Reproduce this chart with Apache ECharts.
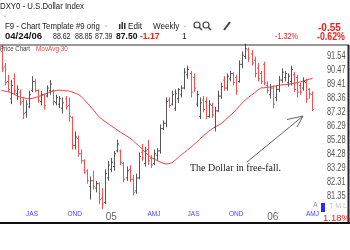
<!DOCTYPE html>
<html><head><meta charset="utf-8">
<script src="https://cdn.jsdelivr.net/npm/echarts@6/dist/echarts.min.js"></script>
<style>html,body{margin:0;padding:0;background:#fff}#c{width:350px;height:250px}</style>
</head><body><div id="c"></div>
<script>
// Weekly bars, first week starting Monday 2004-05-10, last week 04/24/06
const startDate = '2004-05-10';
const open  = [91.9,90.7,89.6,88.3,89.8,88.7,88.8,88.1,87.3,87.7,88.9,89.6,88.9,88.1,88.6,88.5,88.9,88.9,88.0,87.9,87.6,88.3,87.8,86.9,84.9,85.4,84.3,83.8,83.1,82.0,82.4,81.9,82.2,81.2,80.9,82.6,83.2,83.4,84.5,84.5,83.6,82.6,83.2,82.5,81.7,82.6,84.4,83.6,84.6,84.0,83.6,84.2,84.5,86.1,86.5,88.2,87.9,87.6,88.3,88.6,89.1,90.1,90.2,89.9,87.9,87.0,88.2,88.1,87.0,87.8,86.2,87.4,88.5,89.7,89.1,89.8,90.2,89.9,89.6,90.9,91.5,92.0,91.7,91.2,90.6,90.2,90.9,89.3,88.6,89.1,88.4,89.0,89.7,89.9,89.5,89.6,90.1,89.9,89.3,89.1,89.5,89.0,88.62];
const high  = [92.4,91.0,90.1,89.7,90.2,89.3,89.0,88.4,88.2,88.9,90.0,89.8,89.0,88.9,88.7,89.3,89.7,89.0,88.6,88.5,88.4,88.5,88.4,87.0,85.9,85.6,84.6,83.9,83.2,82.7,83.1,82.4,82.3,81.9,83.2,83.8,84.0,84.5,85.3,84.6,83.7,83.4,83.5,82.8,82.9,84.4,85.0,84.8,85.3,84.2,84.6,84.7,86.4,86.7,88.4,88.4,88.9,89.0,89.1,89.3,90.6,90.8,90.4,90.2,88.9,88.4,88.5,88.4,88.2,88.0,87.7,88.9,89.5,90.0,90.2,90.4,90.3,90.1,91.2,91.9,92.5,92.2,92.0,91.5,91.0,90.4,91.1,89.6,89.4,89.3,89.3,90.0,90.6,90.4,90.2,90.8,90.3,90.1,89.5,89.9,89.8,89.1,88.85];
const low   = [90.3,89.3,88.8,87.9,88.6,88.2,87.8,86.8,86.9,87.6,88.8,88.8,88.0,87.8,87.5,88.4,88.6,87.8,87.8,87.6,87.2,87.5,86.6,84.6,84.6,84.1,83.6,82.9,82.2,81.1,81.8,81.6,80.8,80.45,80.8,82.4,83.0,83.1,84.4,83.5,82.3,82.4,82.3,81.4,81.5,82.5,83.8,83.4,83.5,83.3,83.5,83.8,84.3,86.0,86.2,87.6,87.8,87.4,88.0,88.4,89.0,89.8,88.4,88.8,87.7,86.8,87.3,86.8,86.9,86.9,85.9,87.3,88.3,88.9,88.9,89.6,89.3,88.6,89.5,90.6,91.3,91.1,90.8,89.9,89.6,89.4,89.3,88.7,88.3,87.6,88.1,88.8,89.5,89.6,89.2,89.3,88.8,88.4,88.6,88.9,88.0,88.3,87.39];
const close = [90.6,89.5,89.0,89.3,88.9,89.0,88.0,87.2,87.9,88.6,89.6,88.9,88.2,88.6,87.8,89.1,89.4,88.1,88.4,88.3,88.0,87.7,87.0,84.9,85.5,84.3,83.8,83.0,82.4,82.4,82.0,82.2,81.1,80.8,82.9,83.5,83.7,84.3,85.0,83.7,82.5,83.1,82.5,81.6,82.6,84.1,84.0,84.5,83.8,83.5,84.3,84.5,86.1,86.5,88.1,87.8,88.6,88.7,89.0,89.1,90.3,90.5,88.8,89.1,88.6,88.0,87.5,87.0,87.9,87.1,87.4,88.5,89.2,89.1,90.0,90.2,89.5,88.9,90.9,91.6,92.1,91.4,91.0,90.2,89.8,89.6,89.5,88.9,89.1,87.9,89.0,89.7,90.3,90.2,90.0,90.5,89.0,88.8,88.8,89.6,88.3,88.67,87.50];
const ma30  = [88.93,88.87,88.83,88.77,88.65,88.53,88.42,88.38,88.33,88.29,88.32,88.38,88.45,88.53,88.62,88.71,88.81,88.86,88.92,88.94,88.92,88.90,88.88,88.82,88.73,88.64,88.50,88.26,88.01,87.77,87.49,87.23,86.96,86.77,86.62,86.46,86.30,86.15,85.99,85.84,85.71,85.58,85.44,85.26,85.06,84.86,84.65,84.44,84.22,84.04,83.93,83.82,83.71,83.64,83.57,83.60,83.67,83.85,84.05,84.22,84.39,84.56,84.74,84.93,85.13,85.33,85.53,85.73,85.92,86.08,86.21,86.34,86.47,86.65,86.86,87.06,87.26,87.50,87.75,87.99,88.22,88.41,88.58,88.74,88.94,89.10,89.12,89.15,89.17,89.22,89.26,89.31,89.34,89.36,89.38,89.42,89.46,89.51,89.56,89.63,89.70,89.77,89.83];
const yTickLabels = ['81.35','82.31','83.29','84.28','85.28','86.29','87.32','88.36','89.41','90.47','91.54'];
const xLabelIndex = [10,24,36,50,63,77,89,102];
const xLabelText  = ['JAS','OND','05','AMJ','JAS','OND','06','AMJ'];

// weekly category labels
const categories = [];
{
  const d0 = new Date(startDate + 'T00:00:00Z');
  for (let i = 0; i < open.length; i++) {
    const d = new Date(d0.getTime() + i * 7 * 86400000);
    const mm = String(d.getUTCMonth() + 1).padStart(2, '0');
    const dd = String(d.getUTCDate()).padStart(2, '0');
    const yy = String(d.getUTCFullYear()).slice(2);
    categories.push(mm + '/' + dd + '/' + yy);
  }
}

// log price scale: ticks equally spaced at the labelled prices
const base = parseFloat(yTickLabels[0]);
const step = Math.log(parseFloat(yTickLabels[yTickLabels.length - 1]) / base) / (yTickLabels.length - 1);
const toU = p => Math.log(p / base) / step;

const UP = '#555555', DOWN = '#ff4d4d';
const ohlc = categories.map((c, i) => [i, toU(open[i]), toU(high[i]), toU(low[i]), toU(close[i]), close[i] >= open[i] ? 1 : 0]);

const SANS = '"Liberation Sans",Arial,sans-serif';
function T(x, y, text, fill, font, sx) {
  return { type: 'text', x: x, y: y, scaleX: sx || 1, silent: true, z: 10,
    style: { text: text, fill: fill || '#222', font: font,
      textVerticalAlign: 'middle', verticalAlign: 'middle', textAlign: 'left', align: 'left' } };
}
function L(x1, y1, x2, y2, stroke, w) {
  return { type: 'line', silent: true, z: 10, shape: { x1: x1, y1: y1, x2: x2, y2: y2 }, style: { stroke: stroke, lineWidth: w || 1 } };
}
const RED = '#ff1a1a';
const graphics = [
  T(0, 6, 'DXY0 - U.S.Dollar Index', '#1a1a1a', '9.5px ' + SANS, 0.82),
  T(2, 15, '⌄', '#aaaaaa', '7px ' + SANS),
  T(5, 26, 'F9 - Chart Template #9 orig', '#1a1a1a', '9.5px ' + SANS, 0.82),
  T(103, 25, '⌄', '#aaaaaa', '7px ' + SANS),
  { type: 'rect', silent: true, shape: { x: 119, y: 24, width: 1.5, height: 5 }, style: { fill: '#333' } },
  { type: 'rect', silent: true, shape: { x: 121.5, y: 22, width: 1.5, height: 7 }, style: { fill: '#333' } },
  { type: 'rect', silent: true, shape: { x: 124, y: 23, width: 1.5, height: 6 }, style: { fill: '#333' } },
  T(128, 26, 'Edit', '#1a1a1a', '9.5px ' + SANS, 0.85),
  T(153, 26, 'Weekly', '#1a1a1a', '9.5px ' + SANS, 0.85),
  T(182, 25, '⌄', '#aaaaaa', '7px ' + SANS),
  { type: 'circle', silent: true, shape: { cx: 197, cy: 25, r: 3 }, style: { stroke: '#444', fill: 'none', lineWidth: 1.2 } },
  L(199, 27, 202, 30, '#444', 1.5),
  { type: 'circle', silent: true, shape: { cx: 206, cy: 25, r: 3 }, style: { stroke: '#444', fill: 'none', lineWidth: 1.2 } },
  L(208, 27, 211, 30, '#444', 1.5),
  L(224, 30, 230, 22, '#444', 2),
  T(318, 28, '-0.55', RED, 'bold 10px ' + SANS, 1.0),
  T(5, 36.5, '04/24/06', '#111', 'bold 9.5px ' + SANS, 1.0),
  T(53, 36.5, '88.62', '#222', '8.5px ' + SANS, 0.82),
  T(75, 36.5, '88.85', '#222', '8.5px ' + SANS, 0.82),
  T(95, 36.5, '87.39', '#222', '8.5px ' + SANS, 0.82),
  T(116, 36.5, '87.50', '#111', 'bold 9.5px ' + SANS, 0.9),
  T(140, 36.5, '-1.17', RED, 'bold 9.5px ' + SANS, 0.9),
  T(182, 36.5, '1', '#222', '8.5px ' + SANS),
  T(275, 37, '-1.32%', RED, '9px ' + SANS, 0.8),
  T(317, 37, '-0.62%', RED, 'bold 10px ' + SANS, 0.88),
  L(0, 45, 349, 45, '#333', 1),
  T(0, 49, 'Price Chart', '#444', '8px ' + SANS, 0.75),
  T(36, 49, 'MovAvg 30', '#ff4040', '8px ' + SANS, 0.8),
  L(348.5, 45, 348.5, 223, '#223', 2),
  L(0, 223, 350, 223, '#111', 2),
  T(313, 205, 'A', '#999', '7px ' + SANS),
  { type: 'rect', silent: true, z: 11, shape: { x: 321, y: 203, width: 4, height: 9 }, style: { fill: '#2a2aff' } },
  T(329, 206, 'T M L', '#c0c0c0', '7px ' + SANS),
  T(323, 218, '1.18%', RED, '9.5px ' + SANS),
  T(190, 168.5, 'The Dollar in free-fall.', '#222', '10px "Liberation Serif","DejaVu Serif",serif'),
  L(247, 162, 303, 116, '#666', 1),
  { type: 'polyline', silent: true, z: 10, shape: { points: [[287, 119.5], [303, 116], [297, 127]] }, style: { stroke: '#666', fill: 'none', lineWidth: 1 } }
];

const chart = echarts.init(document.getElementById('c'), null, { renderer: 'canvas' });
chart.setOption({
  animation: false,
  backgroundColor: '#fff',
  grid: { left: 0, width: 314, top: 44, height: 166, containLabel: false },
  xAxis: {
    type: 'category', data: categories, boundaryGap: true,
    axisLine: { show: false }, axisTick: { show: false }, splitLine: { show: false },
    axisLabel: {
      interval: (idx) => xLabelIndex.indexOf(idx) >= 0,
      margin: 0,
      formatter: (val, idx) => {
        const k = xLabelIndex.indexOf(idx);
        if (k < 0) return '';
        const t = xLabelText[k];
        return /^\d+$/.test(t) ? '{y|' + t + '}' : '{q|' + t + '}';
      },
      rich: {
        q: { fontSize: 6.5, color: '#4646ff', fontFamily: SANS, lineHeight: 8 },
        y: { fontSize: 10, color: '#666', fontFamily: SANS, lineHeight: 12, padding: [2, 0, 0, 0] }
      }
    }
  },
  yAxis: {
    type: 'value', position: 'right', min: -1, max: (196 - 44) / 14, interval: 1,
    axisLine: { show: false }, axisTick: { show: false }, splitLine: { show: false },
    axisLabel: { show: false }
  },
  series: [
    {
      type: 'line', data: ma30.map(toU), showSymbol: false, symbol: 'none', silent: true,
      lineStyle: { color: '#ff3b3b', width: 1 }, z: 2
    },
    {
      type: 'custom', data: ohlc, encode: { x: 0, y: [1, 2, 3, 4] }, clip: false, z: 3,
      renderItem: function (params, api) {
        const i = api.value(0);
        const pO = api.coord([i, api.value(1)]);
        const pH = api.coord([i, api.value(2)]);
        const pL = api.coord([i, api.value(3)]);
        const pC = api.coord([i, api.value(4)]);
        const color = api.value(5) ? UP : DOWN;
        const x = Math.round(pH[0]) + 0.5;
        const st = { stroke: color, lineWidth: 1 };
        return { type: 'group', children: [
          { type: 'line', shape: { x1: x, y1: pH[1], x2: x, y2: pL[1] }, style: st },
          { type: 'line', shape: { x1: x - 1.5, y1: pO[1], x2: x, y2: pO[1] }, style: st },
          { type: 'line', shape: { x1: x, y1: pC[1], x2: x + 1.5, y2: pC[1] }, style: st }
        ] };
      }
    }
  ]
});

// price-axis tick labels, positioned through the y axis scale (condensed text)
const yLabelEls = yTickLabels.map((t, k) => {
  const py = chart.convertToPixel({ yAxisIndex: 0 }, k);
  return T(327, py, t, '#555', '10px ' + SANS, 0.74);
});
chart.setOption({ graphic: graphics.concat(yLabelEls) });
</script>
</body></html>
